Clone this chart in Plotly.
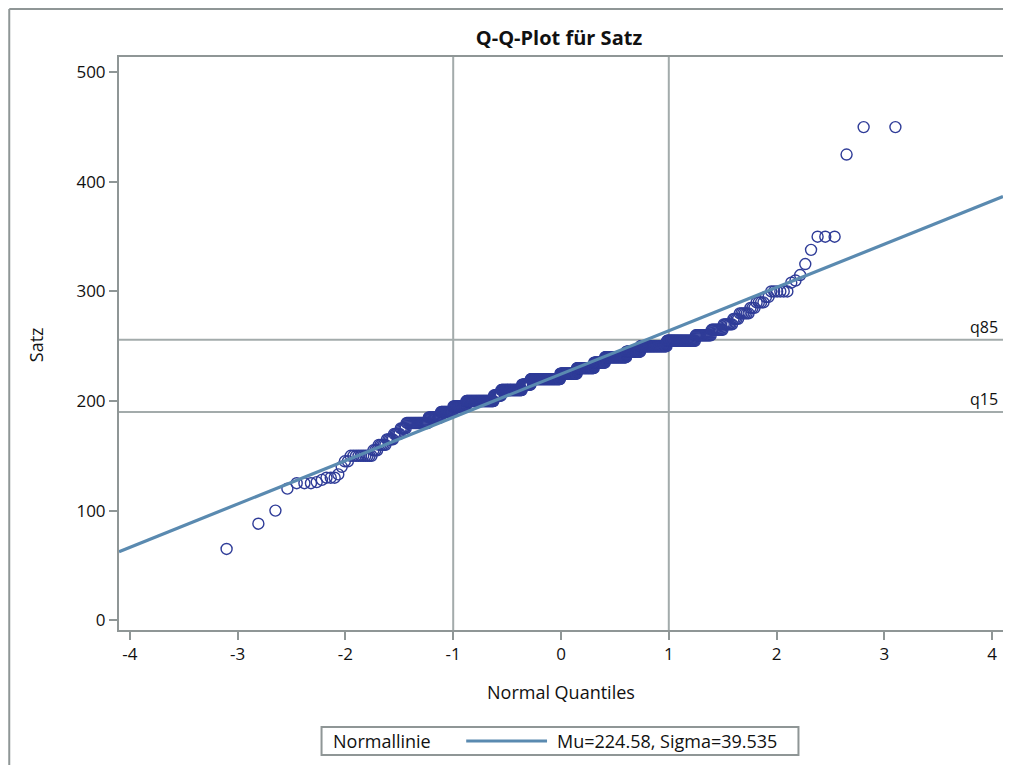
import numpy as np
import plotly.graph_objects as go
from statistics import NormalDist

# ---- data (sorted Satz values and how often each occurs) ----
values = [65, 88, 100, 120, 125, 126, 128, 130, 133, 140, 145, 150, 155, 160, 165, 170, 175,
          180, 185, 190, 195, 200, 205, 210, 215, 220, 225, 230, 235, 240, 245, 250, 255,
          260, 265, 270, 275, 280, 285, 290, 295, 300, 308, 310, 315, 325, 338, 350, 425, 450]
counts = [1, 1, 1, 1, 3, 1, 1, 3, 1, 1, 2, 10, 3, 5, 5, 5, 5,
          22, 15, 17, 20, 50, 15, 45, 20, 70, 40, 40, 25, 45, 27, 44, 37,
          16, 10, 7, 4, 6, 3, 4, 2, 6, 1, 1, 1, 1, 1, 3, 1, 2]
mu = 224.58
sigma = 39.535
ref_x = [-1, 1]
ref_y_labels = ["q15", "q85"]
ref_y_values = [190, 256]
x_ticks = [-4, -3, -2, -1, 0, 1, 2, 3, 4]
x_ticklabels = ["-4", "-3", "-2", "-1", "0", "1", "2", "3", "4"]
y_ticks = [0, 100, 200, 300, 400, 500]
x_range = [-4.1, 4.1]
y_range = [-9, 514]

# ---- Q-Q computation (Blom plotting positions) ----
sorted_vals = np.repeat(values, counts)
n = len(sorted_vals)
nd = NormalDist()
quant = [nd.inv_cdf((i - 0.375) / (n + 0.25)) for i in range(1, n + 1)]

OFF = 8  # page body margin
W, H = 1011 - OFF, 765 - OFF
L, R, T, B = 119 - OFF, 1005 - OFF, 57 - OFF, 630 - OFF
pw, ph = R - L, B - T


def px(xs):
    return (xs - OFF - L) / pw


def py(ys):
    return (B - (ys - OFF)) / ph


grey = "#8f9696"
refgrey = "#a3abab"
mark = "#2f3c98"
linec = "#5a8ab0"
font = "Open Sans"
txt = "#111111"

fig = go.Figure()

fig.add_trace(go.Scatter(
    x=quant, y=sorted_vals, mode="markers",
    marker=dict(symbol="circle-open", size=11, color=mark, line=dict(width=1.4, color=mark)),
    showlegend=False, hoverinfo="skip"))

lx = np.array(x_range)
fig.add_trace(go.Scatter(
    x=lx, y=mu + sigma * lx, mode="lines",
    line=dict(color=linec, width=3.2), showlegend=False, hoverinfo="skip"))

shapes = []
for xv in ref_x:
    shapes.append(dict(type="line", xref="x", yref="paper", x0=xv, x1=xv, y0=0, y1=1,
                       line=dict(color=refgrey, width=2), layer="below"))
annotations = []
for lab, yv in zip(ref_y_labels, ref_y_values):
    shapes.append(dict(type="line", xref="paper", yref="y", x0=0, x1=1, y0=yv, y1=yv,
                       line=dict(color=refgrey, width=2), layer="below"))
    annotations.append(dict(text=lab, xref="paper", yref="y", x=0.997, y=yv,
                            xanchor="right", yanchor="bottom", showarrow=False,
                            font=dict(family=font, size=16, color=txt)))

# outer border (left and top)
shapes.append(dict(type="line", xref="paper", yref="paper", x0=px(9), x1=px(9), y0=py(766), y1=py(9),
                   line=dict(color=grey, width=2)))
shapes.append(dict(type="line", xref="paper", yref="paper", x0=px(9), x1=px(1012), y0=py(9), y1=py(9),
                   line=dict(color=grey, width=2)))

# legend box (manual)
shapes.append(dict(type="rect", xref="paper", yref="paper", x0=px(322), x1=px(800), y0=py(755), y1=py(727),
                   line=dict(color=grey, width=2), fillcolor="white"))
shapes.append(dict(type="line", xref="paper", yref="paper", x0=px(467), x1=px(548), y0=py(741), y1=py(741),
                   line=dict(color=linec, width=3)))
annotations.append(dict(text="Normallinie", xref="paper", yref="paper", x=px(331), y=py(741),
                        xanchor="left", yanchor="middle", showarrow=False,
                        font=dict(family=font, size=18, color=txt)))
annotations.append(dict(text="Mu=224.58, Sigma=39.535", xref="paper", yref="paper", x=px(556), y=py(741),
                        xanchor="left", yanchor="middle", showarrow=False,
                        font=dict(family=font, size=18, color=txt)))

# axis titles
annotations.append(dict(text="Normal Quantiles", xref="paper", yref="paper", x=px(562), y=py(692),
                        xanchor="center", yanchor="middle", showarrow=False,
                        font=dict(family=font, size=18, color=txt)))
annotations.append(dict(text="Satz", xref="paper", yref="paper", x=px(36), y=py(345),
                        xanchor="center", yanchor="middle", showarrow=False, textangle=-90,
                        font=dict(family=font, size=18, color=txt)))

fig.update_layout(
    width=W, height=H,
    margin=dict(l=L, r=W - R, t=T, b=H - B),
    paper_bgcolor="white", plot_bgcolor="white",
    title=dict(text="<b>Q-Q-Plot für Satz</b>", x=px(560), xref="paper", xanchor="center",
               y=1 - (38 - OFF) / H, yref="container", yanchor="middle",
               font=dict(family=font, size=20, color=txt)),
    shapes=shapes, annotations=annotations,
    xaxis=dict(range=x_range, tickvals=x_ticks, ticktext=x_ticklabels, showgrid=False, zeroline=False,
               showline=True, mirror=True, linecolor=grey, linewidth=2,
               ticks="outside", ticklen=8, tickwidth=2, tickcolor=grey,
               tickfont=dict(family=font, size=17, color=txt)),
    yaxis=dict(range=y_range, tickvals=y_ticks, showgrid=False, zeroline=False,
               showline=True, mirror=True, linecolor=grey, linewidth=2,
               ticks="outside", ticklen=8, tickwidth=2, tickcolor=grey,
               tickfont=dict(family=font, size=17, color=txt)),
)

fig.write_html("out.html")
